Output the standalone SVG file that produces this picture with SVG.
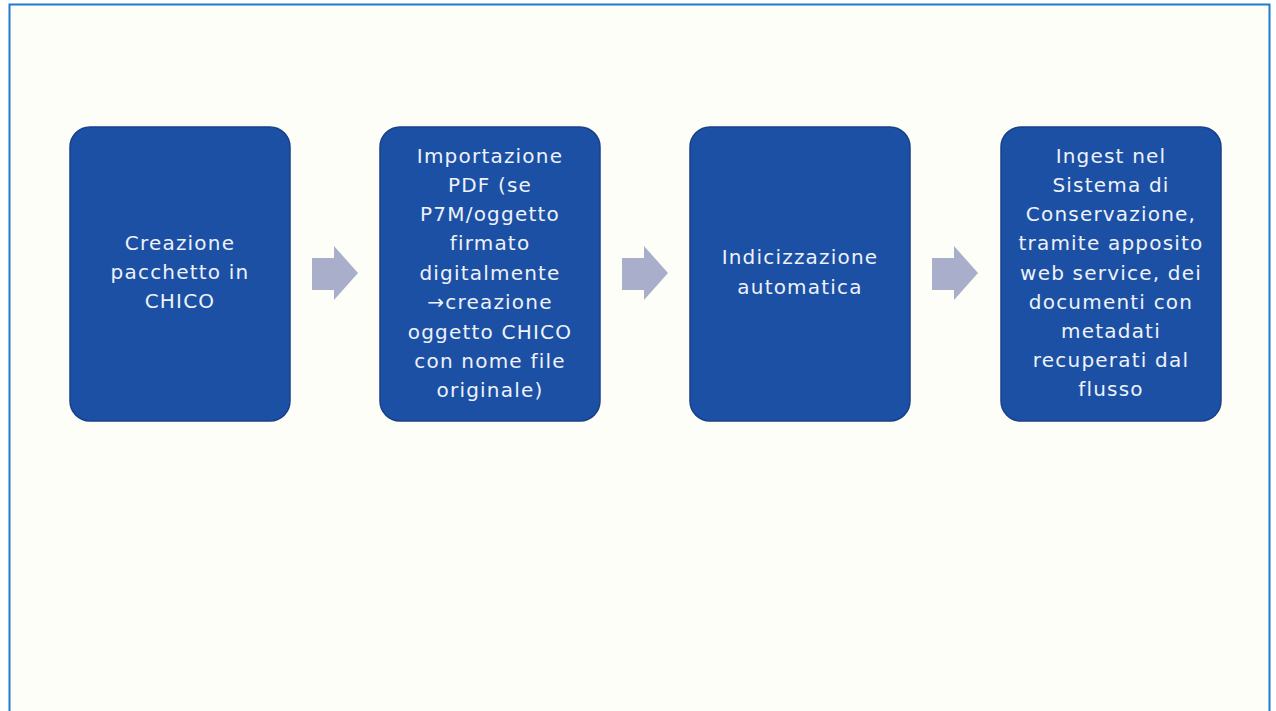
<svg xmlns="http://www.w3.org/2000/svg" width="1276" height="711" viewBox="0 0 1276 711">
<style>
.box{fill:#1c50a4;stroke:#19408a;stroke-width:1.5}
.t{font-family:"DejaVu Sans","Open Sans",sans-serif;font-size:20px;letter-spacing:1.2px;fill:#eef2fa;text-anchor:middle}
.arr{fill:#a9aecb}
</style>
<rect x="0" y="0" width="1276" height="711" fill="#ffffff"/>
<rect x="9.5" y="4.5" width="1260" height="720" fill="#fdfef8" stroke="#1f7ad0" stroke-width="2"/>
<g id="connectors">
<polygon class="arr" points="312,258 334,258 334,246 358,273 334,300 334,290 312,290"/>
<polygon class="arr" points="622,258 644,258 644,246 668,273 644,300 644,290 622,290"/>
<polygon class="arr" points="932,258 954,258 954,246 978,273 954,300 954,290 932,290"/>
</g>
<g id="node1">
<rect class="box" x="70" y="127" width="220" height="294" rx="20"/>
<text class="t" x="180" y="250">Creazione</text>
<text class="t" x="180" y="279">pacchetto in</text>
<text class="t" x="180" y="308">CHICO</text>
</g>
<g id="node2">
<rect class="box" x="380" y="127" width="220" height="294" rx="20"/>
<text class="t" x="490" y="163">Importazione</text>
<text class="t" x="490" y="192">PDF (se</text>
<text class="t" x="490" y="221">P7M/oggetto</text>
<text class="t" x="490" y="250">firmato</text>
<text class="t" x="490" y="280">digitalmente</text>
<text class="t" x="490" y="309">→creazione</text>
<text class="t" x="490" y="339">oggetto CHICO</text>
<text class="t" x="490" y="368">con nome file</text>
<text class="t" x="490" y="397">originale)</text>
</g>
<g id="node3">
<rect class="box" x="690" y="127" width="220" height="294" rx="20"/>
<text class="t" x="800" y="264">Indicizzazione</text>
<text class="t" x="800" y="294">automatica</text>
</g>
<g id="node4">
<rect class="box" x="1001" y="127" width="220" height="294" rx="20"/>
<text class="t" x="1111" y="163">Ingest nel</text>
<text class="t" x="1111" y="192">Sistema di</text>
<text class="t" x="1111" y="221">Conservazione,</text>
<text class="t" x="1111" y="250">tramite apposito</text>
<text class="t" x="1111" y="280">web service, dei</text>
<text class="t" x="1111" y="309">documenti con</text>
<text class="t" x="1111" y="338">metadati</text>
<text class="t" x="1111" y="367">recuperati dal</text>
<text class="t" x="1111" y="396">flusso</text>
</g>
</svg>
